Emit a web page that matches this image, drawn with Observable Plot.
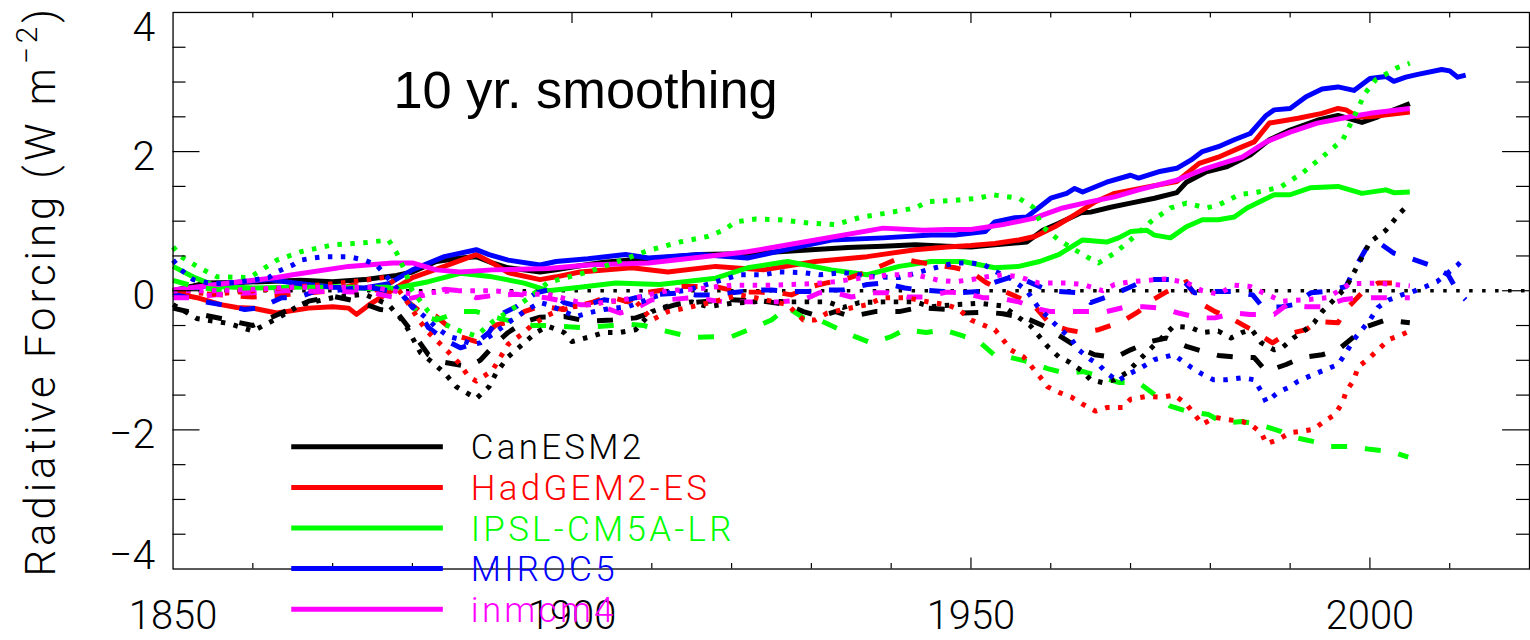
<!DOCTYPE html>
<html>
<head>
<meta charset="utf-8">
<script src="https://cdn.jsdelivr.net/npm/d3@7"></script>
<script src="https://cdn.jsdelivr.net/npm/@observablehq/plot@0.6"></script>
<style>
  html, body { margin: 0; padding: 0; background: #fff; overflow: hidden; }
  #chart { position: relative; width: 1530px; height: 640px; overflow: hidden; }
</style>
</head>
<body>
<div id="chart"></div>
<script>
// ---- models and colours ----
const models = ["CanESM2", "HadGEM2-ES", "IPSL-CM5A-LR", "MIROC5", "inmcm4"];
const colors = ["#000000", "#ff0000", "#00ff00", "#0000ff", "#ff00ff"];

// ---- solid lines: [year, W m-2] ----
const canSolid = [[1850,0.0],[1854,0.11],[1858,0.12],[1861,0.13],[1866,0.15],[1870,0.13],[1874,0.16],[1876,0.19],[1878,0.22],[1880,0.27],[1883,0.42],[1886,0.47],[1888,0.49],[1890,0.4],[1892,0.33],[1896,0.27],[1898,0.3],[1901,0.36],[1904,0.41],[1907,0.44],[1912,0.48],[1916,0.52],[1921,0.53],[1926,0.56],[1930,0.59],[1934.6,0.62],[1939,0.64],[1943,0.66],[1947,0.64],[1950,0.63],[1953,0.66],[1957,0.7],[1959,0.87],[1961,0.97],[1963.8,1.12],[1965,1.13],[1967.5,1.2],[1970,1.26],[1973,1.33],[1975.8,1.41],[1977,1.56],[1979.5,1.71],[1982,1.78],[1985,1.95],[1987.4,2.17],[1990,2.31],[1993.4,2.45],[1996,2.52],[1999,2.42],[2001,2.5],[2003,2.6],[2005,2.69]];
const hadSolid = [[1850,-0.03],[1853,-0.1],[1856,-0.2],[1858,-0.24],[1860,-0.25],[1863,-0.32],[1867,-0.25],[1870,-0.23],[1872,-0.25],[1873,-0.34],[1874.6,-0.2],[1877.5,0.01],[1880,0.19],[1884,0.35],[1888,0.52],[1890,0.4],[1892,0.26],[1896,0.16],[1898,0.2],[1901,0.27],[1907.5,0.33],[1912,0.27],[1918,0.35],[1924,0.3],[1930.5,0.42],[1937,0.49],[1943,0.59],[1947,0.63],[1950,0.65],[1953,0.68],[1956,0.73],[1958,0.78],[1960.5,0.92],[1963,1.09],[1965.6,1.28],[1968,1.4],[1972,1.49],[1975.8,1.57],[1978.6,1.83],[1981,1.92],[1983.6,2.05],[1985.5,2.14],[1987.4,2.41],[1989,2.44],[1991,2.48],[1994,2.55],[1996,2.62],[1997,2.6],[1998.5,2.5],[2000,2.5],[2005,2.57]];
const ipslSolid = [[1850,0.35],[1852.5,0.2],[1855.5,0.06],[1860,0.04],[1865,0.05],[1870,0.06],[1875,0.03],[1878,0.04],[1882,0.13],[1886,0.25],[1890,0.2],[1894,0.11],[1897,0.0],[1901,0.05],[1905.5,0.11],[1911,0.09],[1918,0.18],[1922,0.33],[1927,0.42],[1932.5,0.3],[1937,0.23],[1941,0.35],[1945,0.42],[1949,0.42],[1953,0.33],[1956,0.35],[1958.6,0.42],[1961,0.52],[1964,0.73],[1967,0.7],[1968.5,0.76],[1970,0.85],[1972,0.87],[1973,0.8],[1975,0.76],[1977,0.92],[1979,1.02],[1981,1.02],[1983,1.06],[1984.6,1.19],[1988,1.38],[1990,1.38],[1992.5,1.48],[1996,1.5],[1999,1.4],[2002,1.45],[2003,1.41],[2005,1.42]];
const mirocSolid = [[1850,0.0],[1856,0.1],[1862,0.16],[1866,0.1],[1870,0.05],[1874,0.04],[1877,0.1],[1880,0.3],[1884,0.49],[1888,0.59],[1889.6,0.52],[1892,0.44],[1896,0.37],[1898,0.42],[1902,0.46],[1906.7,0.52],[1909.6,0.47],[1916,0.52],[1922,0.47],[1928,0.62],[1932.5,0.73],[1939,0.76],[1945,0.8],[1948,0.8],[1951.8,0.85],[1953,0.99],[1955.5,1.05],[1957,1.06],[1960,1.33],[1962,1.4],[1963,1.47],[1964,1.42],[1967,1.56],[1970,1.66],[1971,1.62],[1973.5,1.71],[1975.8,1.76],[1977.6,1.88],[1979,2.0],[1981,2.07],[1983,2.17],[1985,2.26],[1987,2.52],[1988,2.6],[1990,2.62],[1992,2.79],[1994,2.9],[1996,2.93],[1998,2.88],[2000,3.05],[2002,3.08],[2003,3.01],[2004.5,3.07],[2006,3.11],[2009,3.18],[2010,3.16],[2011,3.07],[2012,3.1]];
const inmSolid = [[1850,0.01],[1857,0.11],[1863,0.19],[1865,0.23],[1872,0.35],[1877.5,0.4],[1880,0.4],[1883,0.3],[1886,0.27],[1890,0.3],[1897,0.32],[1902,0.37],[1909.6,0.4],[1916,0.48],[1922,0.56],[1930.5,0.73],[1939,0.9],[1944,0.87],[1947,0.88],[1950,0.88],[1954,0.95],[1957.8,1.04],[1961.5,1.19],[1965,1.28],[1968,1.35],[1971,1.45],[1975.8,1.59],[1979.5,1.76],[1984,1.92],[1987,2.14],[1990,2.28],[1993.4,2.41],[1997.5,2.5],[2000,2.55],[2005,2.62]];

// ---- dashed lines ----
const canDashed = [[1850,-0.25],[1853,-0.33],[1856,-0.4],[1860,-0.5],[1863,-0.35],[1867,-0.15],[1870,-0.08],[1873,-0.15],[1876,-0.27],[1878,-0.3],[1880,-0.6],[1882,-0.92],[1884,-1.03],[1887,-1.09],[1888.5,-1.0],[1890.5,-0.75],[1892,-0.6],[1894,-0.45],[1896,-0.38],[1899,-0.37],[1902,-0.44],[1905,-0.42],[1908,-0.39],[1911,-0.27],[1913,-0.2],[1916,-0.16],[1920,-0.13],[1924,-0.15],[1927,-0.2],[1929,-0.3],[1931,-0.37],[1933,-0.3],[1935,-0.37],[1938,-0.3],[1941,-0.3],[1943.5,-0.24],[1947,-0.27],[1949,-0.32],[1952,-0.31],[1954,-0.33],[1957,-0.4],[1959,-0.5],[1961,-0.64],[1963.5,-0.82],[1965.5,-0.92],[1968,-0.96],[1970,-0.85],[1972.5,-0.73],[1974.5,-0.68],[1977,-0.8],[1979,-0.87],[1981,-0.93],[1983,-0.95],[1985.5,-0.96],[1987,-1.16],[1989.5,-1.06],[1991.5,-0.96],[1994,-0.92],[1996,-0.85],[1998,-0.66],[1999.5,-0.52],[2002,-0.42],[2005,-0.46]];
const hadDashed = [[1850,-0.02],[1855,-0.05],[1860,-0.09],[1865,-0.05],[1870,0.0],[1872.5,0.08],[1875,0.02],[1878,-0.03],[1881,-0.3],[1883,-0.37],[1886,-0.66],[1888,-0.73],[1890.5,-0.49],[1892.5,-0.44],[1894,-0.3],[1896,-0.22],[1899,-0.27],[1902.7,-0.16],[1904.6,-0.08],[1907,-0.16],[1909,-0.03],[1911.5,0.01],[1913,0.06],[1916,0.06],[1918,0.06],[1921,-0.02],[1923,-0.02],[1926,-0.03],[1927.5,-0.06],[1930,0.06],[1931.8,0.11],[1934,0.16],[1936,0.23],[1939,0.37],[1941,0.47],[1943,0.42],[1945.5,0.37],[1948,0.33],[1950,0.27],[1952,0.11],[1954,0.0],[1956,-0.1],[1958,-0.23],[1960,-0.49],[1962,-0.56],[1964,-0.6],[1966,-0.56],[1969,-0.44],[1971,-0.3],[1972.8,-0.13],[1974.6,-0.01],[1977,0.13],[1978.6,-0.17],[1980.6,-0.3],[1982.5,-0.39],[1985,-0.55],[1987.8,-0.75],[1989.4,-0.63],[1992,-0.56],[1993.4,-0.44],[1996,-0.46],[1997,-0.27],[1999,-0.03],[2001,0.11],[2003,0.11],[2005,0.09]];
const ipslDashed = [[1850,0.15],[1853,0.05],[1857,0.0],[1862,0.0],[1867,0.05],[1872,0.05],[1877,0.05],[1879,-0.1],[1881,-0.35],[1883,-0.42],[1886,-0.3],[1888,-0.3],[1891,-0.4],[1895,-0.5],[1897,-0.5],[1901,-0.53],[1905,-0.5],[1907,-0.48],[1909,-0.5],[1911,-0.56],[1913.6,-0.63],[1915.6,-0.67],[1918,-0.66],[1920,-0.66],[1922.8,-0.53],[1925,-0.42],[1927,-0.24],[1929,-0.39],[1931,-0.42],[1933,-0.53],[1935.5,-0.66],[1937.5,-0.75],[1940,-0.66],[1941.7,-0.56],[1944.4,-0.6],[1946.5,-0.56],[1949,-0.65],[1951,-0.73],[1953,-0.93],[1955,-0.96],[1957.5,-1.03],[1959.6,-1.12],[1962,-1.19],[1964,-1.16],[1966.7,-1.25],[1968.6,-1.32],[1971,-1.32],[1973,-1.49],[1975,-1.66],[1977,-1.73],[1979.8,-1.78],[1981.6,-1.9],[1984,-1.88],[1986,-1.92],[1988.8,-2.02],[1990.6,-2.11],[1993,-2.17],[1995,-2.24],[1998,-2.24],[2000,-2.28],[2002.6,-2.31],[2004.8,-2.39]];
const mirocDashed = [[1850,-0.05],[1852,-0.1],[1854,-0.16],[1856,-0.2],[1859,-0.27],[1861,-0.24],[1863.6,-0.1],[1865.5,-0.1],[1868,0.0],[1870,0.0],[1873,0.04],[1875,0.04],[1877,0.0],[1879,-0.09],[1880,-0.24],[1881,-0.34],[1882,-0.53],[1884,-0.7],[1886,-0.82],[1888,-0.75],[1889.6,-0.6],[1891,-0.34],[1893,-0.23],[1895.5,-0.03],[1897,0.01],[1899,-0.17],[1901,-0.23],[1904,-0.13],[1906,-0.16],[1908,-0.1],[1910,-0.06],[1913.6,-0.03],[1915.5,-0.06],[1918,-0.06],[1920,-0.03],[1923,0.01],[1925,0.01],[1927.5,-0.01],[1929.6,-0.01],[1932,0.01],[1934,0.01],[1937,0.09],[1939,0.11],[1941.7,0.04],[1943.6,0.01],[1946.5,-0.01],[1948.4,-0.03],[1951,-0.01],[1952.7,0.11],[1954.8,0.19],[1956.6,0.16],[1959,0.04],[1961,-0.01],[1963.5,-0.03],[1965,-0.17],[1967.7,-0.06],[1969.7,0.04],[1972,0.16],[1974,0.16],[1976.5,0.16],[1978,-0.03],[1980.6,-0.01],[1982.7,-0.01],[1985.3,-0.06],[1986.6,-0.24],[1989,-0.23],[1990.4,-0.2],[1992.6,-0.03],[1994.5,-0.01],[1997,0.06],[1998,0.3],[1999.5,0.6],[2001,0.7],[2003,0.54],[2005,0.47],[2007.5,0.37],[2009.8,0.23],[2011,-0.01],[2012,-0.13]];
const inmDashed = [[1850,-0.1],[1852,-0.1],[1856,-0.05],[1860,-0.03],[1864,0.0],[1869,-0.01],[1873,-0.02],[1875,-0.03],[1877.5,-0.09],[1879,-0.13],[1882,-0.05],[1884,0.02],[1886,0.0],[1888,-0.1],[1890,-0.07],[1893,-0.05],[1896.7,-0.1],[1898,-0.13],[1901,-0.2],[1903,-0.2],[1906,-0.32],[1907.7,-0.27],[1910,-0.13],[1912,-0.13],[1915,-0.1],[1919,-0.16],[1921,-0.16],[1924,-0.16],[1926,-0.16],[1929,-0.13],[1931,-0.03],[1933,-0.03],[1935,-0.09],[1937.7,-0.03],[1939.6,-0.03],[1942,-0.09],[1944,-0.09],[1947,-0.02],[1949,-0.03],[1951.5,-0.1],[1953.4,-0.1],[1956,-0.16],[1958,-0.25],[1960,-0.3],[1962,-0.3],[1965,-0.3],[1967,-0.3],[1969.5,-0.23],[1971.6,-0.23],[1974,-0.25],[1976,-0.32],[1978.6,-0.39],[1980.6,-0.39],[1983,-0.32],[1985,-0.34],[1988,-0.34],[1989.6,-0.2],[1992,-0.23],[1994,-0.23],[1996.6,-0.13],[1998.6,-0.1],[2001,-0.1],[2003,-0.1],[2005,-0.1]];

// ---- dotted lines ----
const canDotted = [[1850,-0.2],[1853,-0.4],[1857,-0.47],[1860,-0.58],[1863,-0.4],[1866,-0.2],[1870,-0.1],[1874,-0.05],[1877,-0.2],[1879,-0.46],[1881,-0.89],[1882.5,-1.03],[1884,-1.18],[1885.5,-1.38],[1888,-1.55],[1889.6,-1.38],[1890.5,-1.18],[1892,-0.95],[1894,-0.75],[1895.5,-0.6],[1897,-0.51],[1899,-0.6],[1900,-0.73],[1902,-0.67],[1904,-0.6],[1906,-0.6],[1908,-0.56],[1910,-0.3],[1912,-0.22],[1915,-0.16],[1917,-0.23],[1920,-0.18],[1924,-0.15],[1927,-0.16],[1932,-0.16],[1934,-0.24],[1936,-0.17],[1939,-0.16],[1943,-0.16],[1945,-0.23],[1948,-0.2],[1951,-0.18],[1954,-0.22],[1957.5,-0.51],[1959.6,-0.8],[1961,-0.95],[1962.4,-1.03],[1964,-1.16],[1965,-1.28],[1966.5,-1.32],[1968,-1.28],[1969.5,-1.18],[1972,-0.89],[1975.4,-0.51],[1977.6,-0.53],[1979,-0.6],[1981,-0.58],[1982.6,-0.68],[1984,-0.6],[1985.2,-0.56],[1986.4,-0.75],[1988,-0.85],[1989,-0.82],[1990.4,-0.68],[1991.7,-0.58],[1993,-0.46],[1994,-0.3],[1995.5,-0.13],[1997,0.05],[1998.5,0.37],[2000,0.7],[2002,0.87],[2003.8,1.12],[2005,1.26]];
const hadDotted = [[1850,0.0],[1855,-0.05],[1860,0.0],[1865,0.05],[1870,0.1],[1874,0.15],[1877,0.2],[1879,-0.1],[1881,-0.45],[1882,-0.6],[1884,-0.82],[1886,-1.06],[1887,-1.23],[1888,-1.3],[1890,-1.15],[1892,-0.77],[1894,-0.6],[1895,-0.49],[1897,-0.35],[1899,-0.25],[1902,-0.2],[1905,-0.15],[1908,-0.15],[1910,-0.42],[1912,-0.3],[1915,-0.23],[1918,-0.15],[1921,-0.06],[1923,-0.1],[1925,-0.15],[1927,-0.2],[1929,-0.42],[1930.5,-0.42],[1932,-0.32],[1934,-0.27],[1937,-0.2],[1939,-0.1],[1942,-0.1],[1945,-0.17],[1947,-0.2],[1948.5,-0.27],[1950,-0.42],[1951.5,-0.49],[1953,-0.56],[1954,-0.7],[1955,-0.85],[1956.6,-0.95],[1958.6,-1.23],[1959.6,-1.38],[1961,-1.46],[1962.6,-1.53],[1964,-1.63],[1965.6,-1.73],[1967,-1.68],[1969,-1.68],[1970,-1.56],[1972,-1.52],[1974,-1.53],[1975.5,-1.5],[1977,-1.63],[1979,-1.92],[1980.6,-1.82],[1982,-1.85],[1984,-1.88],[1985,-1.92],[1986.4,-2.04],[1987,-2.2],[1988.5,-2.14],[1990,-2.04],[1991.5,-2.02],[1993,-1.99],[1994,-1.9],[1995.6,-1.78],[1996.6,-1.6],[1997,-1.45],[1998,-1.28],[1998.5,-1.1],[2000,-0.96],[2001,-0.85],[2002.4,-0.7],[2004,-0.63],[2005,-0.58]];
const ipslDotted = [[1850,0.63],[1851,0.49],[1853,0.35],[1855.5,0.2],[1859.6,0.19],[1863,0.44],[1866,0.56],[1870,0.66],[1874,0.69],[1877,0.73],[1878,0.55],[1879,0.3],[1880,0.0],[1882,-0.3],[1884,-0.48],[1886,-0.58],[1888,-0.65],[1890,-0.45],[1892,-0.3],[1894,-0.15],[1897,0.12],[1902,0.27],[1906.5,0.45],[1909.6,0.58],[1913.5,0.7],[1917,0.78],[1919,0.87],[1920.5,0.99],[1923,1.03],[1926,1.02],[1930,0.97],[1933,0.95],[1936,1.05],[1939.6,1.12],[1943,1.19],[1944.6,1.28],[1948,1.3],[1951,1.33],[1952.6,1.38],[1956,1.33],[1957.8,1.2],[1959,0.92],[1961,0.73],[1963,0.59],[1964.8,0.47],[1966,0.4],[1968,0.54],[1970,0.73],[1972.5,0.99],[1975,1.19],[1977,1.26],[1979.5,1.19],[1981,1.23],[1983.6,1.38],[1986,1.42],[1988.8,1.49],[1991.5,1.69],[1994,1.92],[1996.6,2.17],[1998,2.5],[1999.4,2.84],[2000.7,3.03],[2003.5,3.21],[2005,3.27]];
const mirocDotted = [[1850,0.44],[1851,0.3],[1852.5,0.16],[1855,0.1],[1858,0.12],[1862,0.19],[1863,0.27],[1865,0.37],[1866,0.44],[1867.5,0.47],[1869,0.49],[1872,0.49],[1874,0.44],[1875.5,0.37],[1877.5,0.11],[1879,-0.1],[1880.5,-0.27],[1882,-0.42],[1883,-0.53],[1884.6,-0.66],[1886,-0.7],[1887.5,-0.77],[1888.5,-0.75],[1890,-0.63],[1892,-0.46],[1894,-0.3],[1896,-0.17],[1897,-0.2],[1899,-0.3],[1900.5,-0.37],[1902,-0.32],[1904,-0.27],[1907,-0.23],[1908.7,-0.16],[1910.5,-0.08],[1912.5,-0.02],[1914,0.0],[1916,0.06],[1919,0.16],[1921,0.23],[1924,0.23],[1926,0.27],[1929,0.26],[1931,0.23],[1934,0.26],[1936,0.23],[1938,0.2],[1941,0.19],[1943,0.25],[1945.5,0.33],[1948,0.4],[1950,0.4],[1951.7,0.37],[1953,0.28],[1954.8,0.19],[1957,0.0],[1958.5,-0.25],[1960,-0.42],[1961,-0.53],[1962.6,-0.7],[1963.5,-0.85],[1965,-0.99],[1966,-1.06],[1967,-1.18],[1968.4,-1.3],[1969.7,-1.2],[1971,-1.13],[1973,-0.99],[1975.4,-0.92],[1977.6,-1.1],[1979,-1.2],[1980.4,-1.28],[1982,-1.28],[1984,-1.25],[1985.5,-1.28],[1986.4,-1.45],[1987,-1.6],[1988.5,-1.46],[1990,-1.38],[1991,-1.3],[1993,-1.2],[1994.5,-1.13],[1996,-1.06],[1997,-0.89],[1998,-0.7],[1999,-0.56],[2000,-0.42],[2001,-0.24],[2002.4,-0.13],[2004,-0.06],[2005,-0.03],[2007,0.06],[2008.4,0.13],[2011,0.37],[2012,0.49]];
const inmDotted = [[1850,0.0],[1855,0.0],[1860,0.02],[1865,0.05],[1870,0.05],[1875,0.05],[1880,-0.05],[1885,0.0],[1890,0.0],[1895,-0.05],[1897,-0.05],[1902,-0.2],[1908,-0.1],[1912,0.0],[1916,0.03],[1920,0.08],[1925,0.08],[1930,0.1],[1933,0.13],[1936,0.18],[1940,0.23],[1943,0.23],[1946,0.15],[1948,0.13],[1950,0.16],[1952,0.2],[1954,0.23],[1956,0.2],[1958.5,0.11],[1962,0.11],[1964,0.09],[1966.5,0.0],[1968,0.09],[1970,0.13],[1974.4,0.17],[1977,0.12],[1979,0.0],[1981,-0.05],[1983,0.08],[1985,0.06],[1987,-0.05],[1989,-0.15],[1992,-0.13],[1994.7,-0.1],[1997.5,0.1],[2001,0.11],[2003,0.09],[2005,0.07]];

// ---- axis ticks ----
const xLabelTicks = [1850, 1900, 1950, 2000];
const xMajorTicks = [1900, 1950, 2000];
const xMinorTicks = d3.range(1860, 2020, 10).filter(d => d % 50 !== 0);
const yMajorTicks = [-2, 0, 2];
const yMinorTicks = [-3.5, -3, -2.5, -1.5, -1, -0.5, 0.5, 1, 1.5, 2.5, 3, 3.5];

const title = "10 yr. smoothing";

// ---- table for the line marks ----
const styleSets = {
  solid:  [canSolid, hadSolid, ipslSolid, mirocSolid, inmSolid],
  dashed: [canDashed, hadDashed, ipslDashed, mirocDashed, inmDashed],
  dotted: [canDotted, hadDotted, ipslDotted, mirocDotted, inmDotted]
};
const rows = {};
for (const [style, sets] of Object.entries(styleSets)) {
  rows[style] = sets.flatMap((pts, i) => pts.map(([year, value]) => ({model: models[i], year, value})));
}

const W = 1534, H = 640;
const mL = 173, mR = 1, mT = 12, mB = 70;
const innerW = W - mL - mR, innerH = H - mT - mB;
const fmt = d => d < 0 ? "\u2212" + Math.abs(d) : String(d);
const font = "Roboto, 'DejaVu Sans', sans-serif";

const lineOpts = {x: "year", y: "value", z: "model", stroke: "model", strokeWidth: 5,
                  strokeLinejoin: "round", strokeLinecap: "butt", curve: "linear"};
const labelOpts = {tickSize: 0, fontSize: 41, fill: "black", label: null};

const chart = Plot.plot({
  width: W, height: H,
  marginLeft: mL, marginRight: mR, marginTop: mT, marginBottom: mB,
  x: {domain: [1850, 2020], axis: null},
  y: {domain: [-4, 4], axis: null},
  color: {domain: models, range: colors},
  style: {fontFamily: font, fontWeight: 300, background: "white", overflow: "visible"},
  marks: [
    Plot.ruleY([0], {stroke: "black", strokeWidth: 3.5, strokeDasharray: "3.5,9.5"}),
    Plot.line(rows.solid, lineOpts),
    Plot.line(rows.dashed, {...lineOpts, strokeDasharray: "16,18"}),
    Plot.line(rows.dotted, {...lineOpts, strokeDasharray: "4.5,8.5"}),
    Plot.frame({stroke: "black", strokeWidth: 1.3}),
    // x ticks, bottom and top
    Plot.tickX(xMinorTicks, {x: d => d, stroke: "black", strokeWidth: 1.2, insetTop: innerH - 5.5}),
    Plot.tickX(xMajorTicks, {x: d => d, stroke: "black", strokeWidth: 1.2, insetTop: innerH - 11}),
    Plot.tickX(xMinorTicks, {x: d => d, stroke: "black", strokeWidth: 1.2, insetBottom: innerH - 5.5}),
    Plot.tickX(xMajorTicks, {x: d => d, stroke: "black", strokeWidth: 1.2, insetBottom: innerH - 11}),
    // y ticks, left and right
    Plot.tickY(yMinorTicks, {y: d => d, stroke: "black", strokeWidth: 1.2, insetRight: innerW - 13}),
    Plot.tickY(yMajorTicks, {y: d => d, stroke: "black", strokeWidth: 1.2, insetRight: innerW - 27}),
    Plot.tickY(yMinorTicks, {y: d => d, stroke: "black", strokeWidth: 1.2, insetLeft: innerW - 13}),
    Plot.tickY(yMajorTicks, {y: d => d, stroke: "black", strokeWidth: 1.2, insetLeft: innerW - 27}),
    // tick labels
    Plot.axisX(xLabelTicks, {...labelOpts, fontSize: 40, tickPadding: 32, tickFormat: String}),
    Plot.axisY([4], {...labelOpts, tickPadding: 18, dy: 15, tickFormat: fmt}),
    Plot.axisY(yMajorTicks, {...labelOpts, tickPadding: 18, dy: 5, tickFormat: fmt}),
    Plot.axisY([-4], {...labelOpts, tickPadding: 18, dy: -13, tickFormat: fmt}),
    // panel note
    Plot.text([title], {frameAnchor: "top-left", dx: 221, dy: 96, lineAnchor: "bottom", textAnchor: "start",
                        fontSize: 52.5, fontFamily: "'Liberation Sans', Arial, sans-serif", fontWeight: 400, fill: "black"})
  ]
});

document.getElementById("chart").appendChild(chart);

// ---- y-axis title with superscript ----
const svg = d3.select(chart);
const yTitle = svg.append("text")
  .attr("transform", "translate(55,578) rotate(-90)")
  .attr("text-anchor", "start")
  .style("font-family", font).style("font-weight", 300)
  .style("font-size", "42px").attr("fill", "black");
yTitle.append("tspan").text("Radiative Forcing (W m");
yTitle.append("tspan").attr("dy", -18).style("font-size", "30px").text("\u22122");
yTitle.append("tspan").attr("dy", 18).text(")");
{
  const target = 573;
  const natural = yTitle.node().getComputedTextLength();
  const nChars = "Radiative Forcing (W m\u22122)".length;
  yTitle.style("letter-spacing", ((target - natural) / nChars) + "px");
}

// ---- legend ----
const legend = svg.append("g").attr("text-anchor", "start");
models.forEach((m, i) => {
  const y = 448 + i * 40.7;
  legend.append("line").attr("x1", 292).attr("x2", 444).attr("y1", y).attr("y2", y)
    .attr("stroke", colors[i]).attr("stroke-width", 5);
  legend.append("text").attr("x", 472).attr("y", y).attr("dy", "0.36em")
    .attr("text-anchor", "start")
    .attr("fill", colors[i]).style("font-family", font).style("font-weight", 300)
    .style("font-size", "35px").style("letter-spacing", "3.3px").text(m);
});
</script>
</body>
</html>
